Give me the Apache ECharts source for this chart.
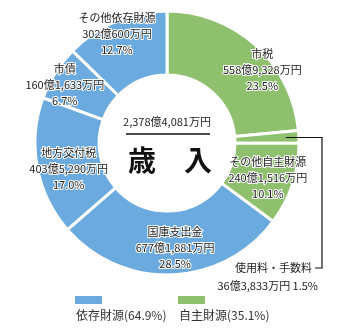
<!DOCTYPE html>
<html><head><meta charset="utf-8">
<script src="https://cdn.jsdelivr.net/npm/echarts@6/dist/echarts.min.js"></script>
<style>html,body{margin:0;padding:0;background:#fff}#c{width:342px;height:333px}</style>
</head><body><div id="c"></div>
<script>
// 歳入の内訳（単位：万円）
const names = ['市税', '使用料・手数料', 'その他自主財源', '国庫支出金', '地方交付税', '市債', 'その他依存財源'];
const amounts = [5589328, 363833, 2401516, 6771881, 4035290, 1601633, 3020600];
const groups = ['自主', '自主', '自主', '依存', '依存', '依存', '依存'];
const groupOrder = ['依存', '自主'];
const groupLabels = { '依存': '依存財源', '自主': '自主財源' };
const titleText = '歳　入';

// styling / layout
const colors = { '依存': '#6aaade', '自主': '#8ec06e' };
const FONT = "'Noto Sans CJK JP', 'Noto Sans', sans-serif";
const CX = 167, CY = 143, R_IN = 68, R_OUT = 132;
const labelOffsets = [[26, 3], [0, 0], [3, 3], [4, 2], [3, 7], [-15, -3], [-10, -14]];
const smallIndex = 1; // slice labelled outside with a leader line

const total = amounts.reduce((a, b) => a + b, 0);
const pct = v => (v / total * 100).toFixed(1) + '%';
function yen(v) {
  const oku = Math.floor(v / 10000), man = v % 10000;
  return oku.toLocaleString('en-US') + '億' + (man ? man.toLocaleString('en-US') + '万円' : '円');
}

const data = names.map((n, i) => ({
  name: n,
  value: amounts[i],
  itemStyle: { color: colors[groups[i]] }
}));

// leader line for the thin slice, starting from its mid angle
let cum = 0;
for (let i = 0; i < smallIndex; i++) cum += amounts[i];
const midA = (cum + amounts[smallIndex] / 2) / total * 2 * Math.PI;
const rL = 119;
const p0 = [CX + rL * Math.sin(midA), CY - rL * Math.cos(midA)];
const kneeX = 322, lineEndY = 268;

const groupSum = g => amounts.reduce((s, v, i) => s + (groups[i] === g ? v : 0), 0);

const legendGraphics = [];
groupOrder.forEach((g, k) => {
  const x0 = 75 + k * 103;
  legendGraphics.push({ type: 'rect', shape: { x: x0, y: 296, width: 27, height: 8 }, style: { fill: colors[g] } });
  legendGraphics.push({
    type: 'text', x: x0 + 1, y: 315,
    style: { text: groupLabels[g] + '(' + pct(groupSum(g)) + ')', font: '12px ' + FONT, fill: '#333', textVerticalAlign: 'middle', textAlign: 'left' }
  });
});

const chart = echarts.init(document.getElementById('c'), null, { renderer: 'canvas' });
chart.setOption({
  animation: false,
  series: [{
    type: 'pie',
    center: [CX, CY],
    radius: [R_IN, R_OUT],
    startAngle: 90,
    clockwise: true,
    avoidLabelOverlap: false,
    itemStyle: { borderColor: '#fff', borderWidth: 3 },
    label: {
      show: true,
      position: 'inside',
      fontFamily: FONT,
      fontSize: 11,
      lineHeight: 16,
      color: '#222',
      textBorderColor: '#fff',
      textBorderWidth: 2,
      formatter: p => p.dataIndex === smallIndex
        ? '{a|' + p.name + '}\n{b|' + yen(p.value) + ' ' + pct(p.value) + '}'
        : p.name + '\n' + yen(p.value) + '\n' + pct(p.value),
      rich: {
        a: { fontFamily: FONT, fontSize: 11, lineHeight: 18, color: '#222', padding: [0, 6, 0, 0], align: 'right' },
        b: { fontFamily: FONT, fontSize: 11, lineHeight: 18, color: '#222', align: 'right' }
      }
    },
    labelLine: { show: false },
    labelLayout: params => {
      if (params.dataIndex === smallIndex) {
        return { x: kneeX - 4, y: lineEndY + 9, align: 'right', verticalAlign: 'middle' };
      }
      const o = labelOffsets[params.dataIndex];
      return { dx: o[0], dy: o[1] };
    },
    data: data
  }],
  graphic: [
    {
      type: 'text', x: CX, y: 122,
      style: { text: yen(total), font: '11px ' + FONT, fill: '#222', textAlign: 'center', textVerticalAlign: 'middle' }
    },
    { type: 'line', shape: { x1: 126, y1: 134, x2: 210, y2: 134 }, style: { stroke: '#111', lineWidth: 1.5 } },
    {
      type: 'text', x: CX + 3, y: 160,
      style: { text: titleText, font: 'bold 28px ' + FONT, fill: '#111', textAlign: 'center', textVerticalAlign: 'middle' }
    },
    {
      type: 'polyline', z: 100,
      shape: { points: [p0, [kneeX, p0[1]], [kneeX, lineEndY], [kneeX - 7, lineEndY]] },
      style: { stroke: '#111', lineWidth: 1.2, fill: null }
    }
  ].concat(legendGraphics)
});
</script>
</body></html>
